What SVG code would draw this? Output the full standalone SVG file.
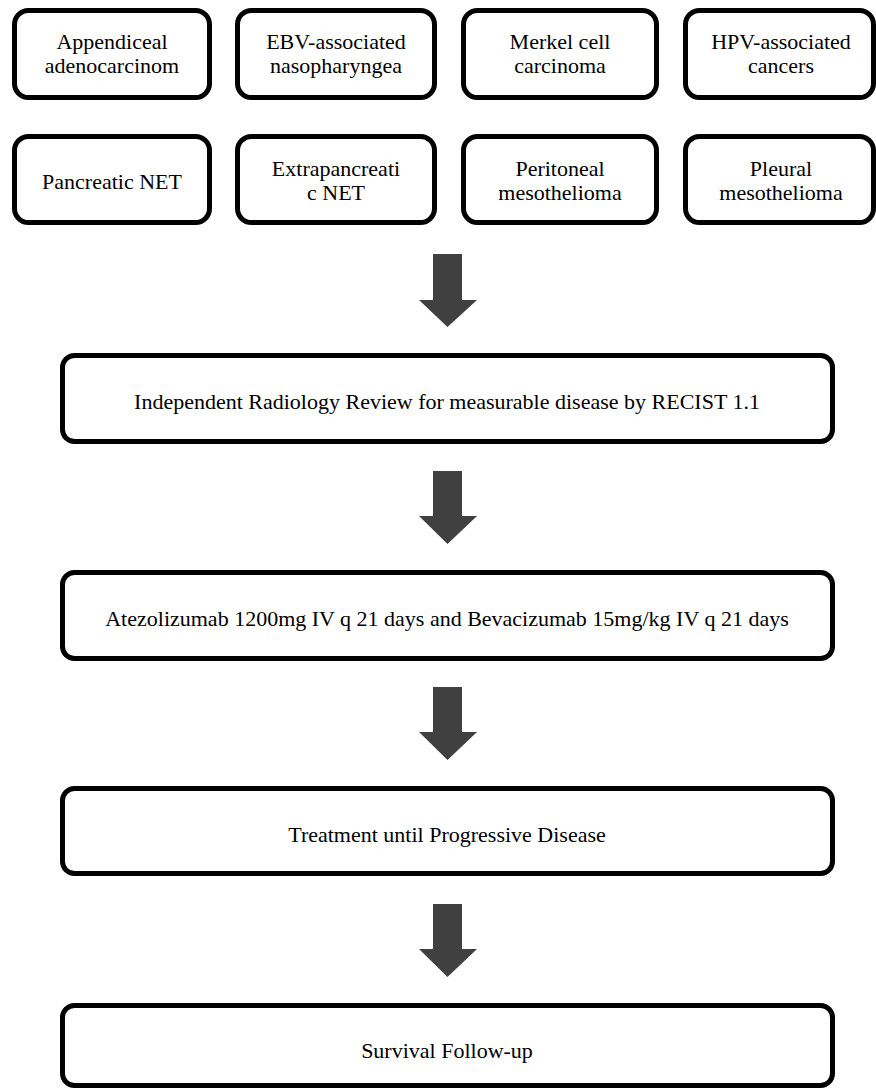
<svg xmlns="http://www.w3.org/2000/svg" width="876" height="1089" viewBox="0 0 876 1089">
<style>
.box{fill:#fff;stroke:#000;stroke-width:5}
.t{font-family:"Liberation Serif","Times New Roman",serif;font-size:22px;fill:#000;text-anchor:middle}
.arr{fill:#404040}
</style>
<rect width="876" height="1089" fill="#fff"/>
<g id="n1"><rect class="box" x="14.5" y="10.5" width="195" height="87" rx="14"/><text class="t" x="112" y="49">Appendiceal</text><text class="t" x="112" y="73">adenocarcinom</text></g>
<g id="n2"><rect class="box" x="237.5" y="10.5" width="197" height="87" rx="14"/><text class="t" x="336" y="49">EBV-associated</text><text class="t" x="336" y="73">nasopharyngea</text></g>
<g id="n3"><rect class="box" x="463.5" y="10.5" width="193" height="87" rx="14"/><text class="t" x="560" y="49">Merkel cell</text><text class="t" x="560" y="73">carcinoma</text></g>
<g id="n4"><rect class="box" x="685.5" y="10.5" width="188" height="87" rx="14"/><text class="t" x="781" y="49">HPV-associated</text><text class="t" x="781" y="73">cancers</text></g>
<g id="n5"><rect class="box" x="14.5" y="136.5" width="195" height="86" rx="14"/><text class="t" x="112" y="189">Pancreatic NET</text></g>
<g id="n6"><rect class="box" x="237.5" y="136.5" width="197" height="86" rx="14"/><text class="t" x="336" y="176">Extrapancreati</text><text class="t" x="336" y="200">c NET</text></g>
<g id="n7"><rect class="box" x="463.5" y="136.5" width="193" height="86" rx="14"/><text class="t" x="560" y="176">Peritoneal</text><text class="t" x="560" y="200">mesothelioma</text></g>
<g id="n8"><rect class="box" x="685.5" y="136.5" width="188" height="86" rx="14"/><text class="t" x="781" y="176">Pleural</text><text class="t" x="781" y="200">mesothelioma</text></g>
<g id="n9"><rect class="box" x="62.5" y="355.5" width="770" height="86" rx="12"/><text class="t" x="447" y="409">Independent Radiology Review for measurable disease by RECIST 1.1</text></g>
<g id="n10"><rect class="box" x="62.5" y="572.5" width="770" height="86" rx="12"/><text class="t" x="447" y="626">Atezolizumab 1200mg IV q 21 days and Bevacizumab 15mg/kg IV q 21 days</text></g>
<g id="n11"><rect class="box" x="62.5" y="788.5" width="770" height="85" rx="12"/><text class="t" x="447" y="842">Treatment until Progressive Disease</text></g>
<g id="n12"><rect class="box" x="62.5" y="1005.5" width="770" height="80" rx="12"/><text class="t" x="447" y="1058">Survival Follow-up</text></g>
<g id="connectors">
<polygon class="arr" points="433,254 462,254 462,300 477,300 447.5,327 419,300 433,300"/>
<polygon class="arr" points="433,471 462,471 462,516 477,516 447.5,544 419,516 433,516"/>
<polygon class="arr" points="433,687 462,687 462,732 477,732 447.5,760 419,732 433,732"/>
<polygon class="arr" points="433,904 462,904 462,949 477,949 447.5,977 419,949 433,949"/>
</g>
</svg>
